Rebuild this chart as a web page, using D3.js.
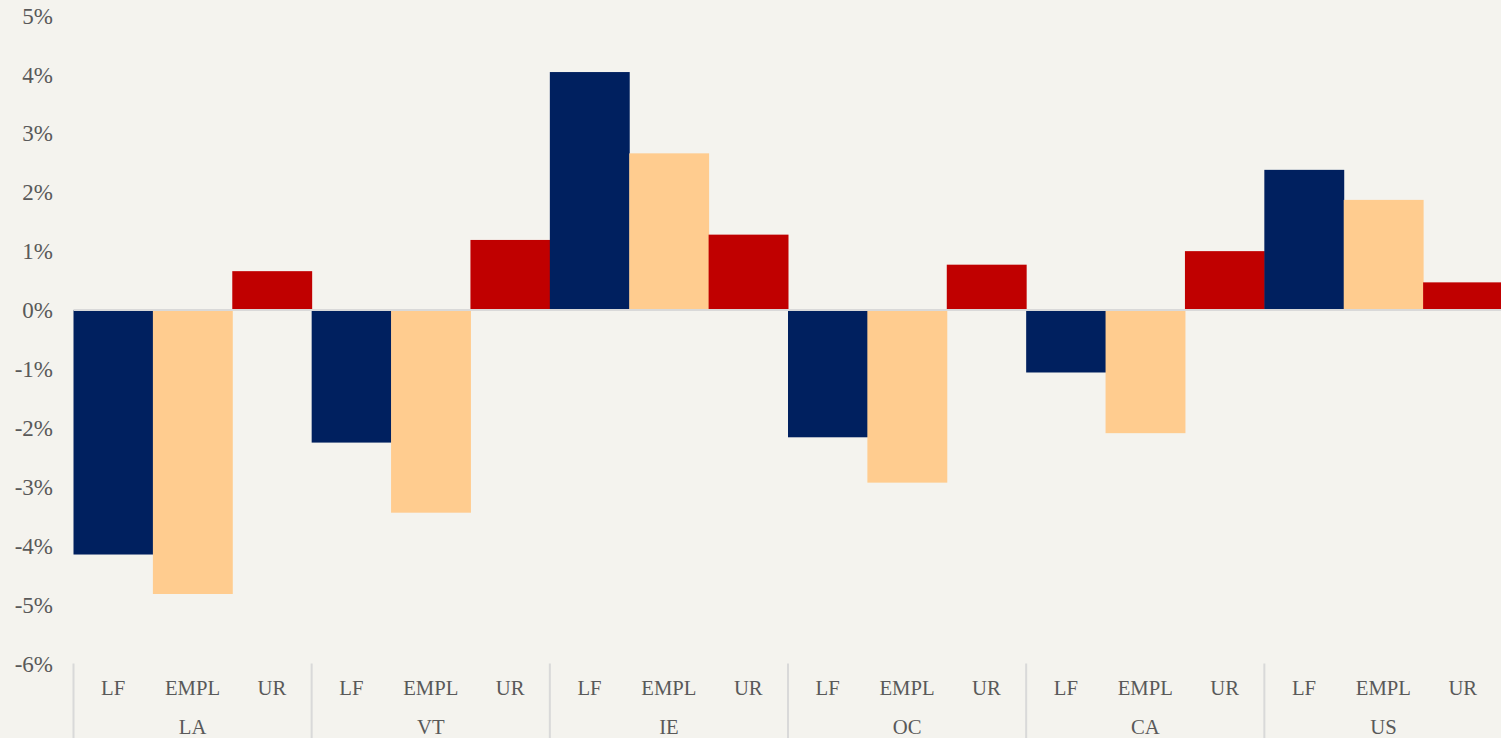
<!DOCTYPE html>
<html>
<head>
<meta charset="utf-8">
<script src="https://cdn.jsdelivr.net/npm/d3@7"></script>
<style>
  html, body { margin: 0; padding: 0; background: #F4F3EE; }
  svg { display: block; }
  text { font-family: "Liberation Serif", "Times New Roman", serif; fill: #595959; }
</style>
</head>
<body>
<svg id="chart" width="1501" height="738"></svg>
<script>
const regions = ["LA", "VT", "IE", "OC", "CA", "US"];
const measures = ["LF", "EMPL", "UR"];
const lfValues   = [-4.15, -2.25, 4.04, -2.16, -1.06, 2.38];
const emplValues = [-4.82, -3.44, 2.66, -2.93, -2.09, 1.87];
const urValues   = [0.66, 1.19, 1.28, 0.77, 1.00, 0.47];
const yTicks = [5, 4, 3, 2, 1, 0, -1, -2, -3, -4, -5, -6];
const colors = ["#00205F", "#FFCC8F", "#C00000"];

const seriesValues = [lfValues, emplValues, urValues];
const data = [];
regions.forEach((r, i) => {
  measures.forEach((m, j) => data.push({ region: r, measure: m, value: seriesValues[j][i], idx: j }));
});

const svg = d3.select("#chart");
const plotLeft = 73.5, plotRight = 1502.5, plotTop = 15.5, plotBottom = 663.5;

const x0 = d3.scaleBand().domain(regions).range([plotLeft, plotRight]).padding(0);
const x1 = d3.scaleBand().domain(measures).range([0, x0.bandwidth()]).padding(0);
const y = d3.scaleLinear().domain([-6, 5]).range([plotBottom, plotTop]);

// y tick labels
const yAxis = d3.axisLeft(y).tickValues(yTicks).tickFormat(d => d + "%").tickSize(0).tickPadding(0);
const gy = svg.append("g").attr("transform", "translate(53,0)").call(yAxis);
gy.select(".domain").remove();
gy.selectAll("text").style("font-size", "23px").attr("fill", "#595959").attr("dy", "0.33em")
  .style("font-family", '"Liberation Serif", serif');

// bars
svg.append("g").selectAll("rect").data(data).join("rect")
  .attr("x", d => x0(d.region) + x1(d.measure))
  .attr("width", x1.bandwidth() + 0.5)
  .attr("y", d => Math.min(y(d.value), y(0)))
  .attr("height", d => Math.abs(y(d.value) - y(0)))
  .attr("fill", d => colors[d.idx]);

// zero line
svg.append("line")
  .attr("x1", plotLeft).attr("x2", plotRight)
  .attr("y1", y(0)).attr("y2", y(0))
  .attr("stroke", "#D9D9D9").attr("stroke-width", 2);

// group separators
const seps = regions.map(r => x0(r)).concat([plotRight]);
svg.append("g").selectAll("line").data(seps).join("line")
  .attr("x1", d => d).attr("x2", d => d)
  .attr("y1", plotBottom).attr("y2", 738)
  .attr("stroke", "#D9D9D9").attr("stroke-width", 2);

// measure labels
svg.append("g").selectAll("text").data(data).join("text")
  .attr("x", d => x0(d.region) + x1(d.measure) + x1.bandwidth() / 2)
  .attr("y", 688)
  .attr("dy", "0.35em")
  .attr("text-anchor", "middle")
  .style("font-size", "20.7px")
  .text(d => d.measure);

// region labels
svg.append("g").selectAll("text").data(regions).join("text")
  .attr("x", d => x0(d) + x0.bandwidth() / 2)
  .attr("y", 727)
  .attr("dy", "0.35em")
  .attr("text-anchor", "middle")
  .style("font-size", "20.7px")
  .text(d => d);
</script>
</body>
</html>
